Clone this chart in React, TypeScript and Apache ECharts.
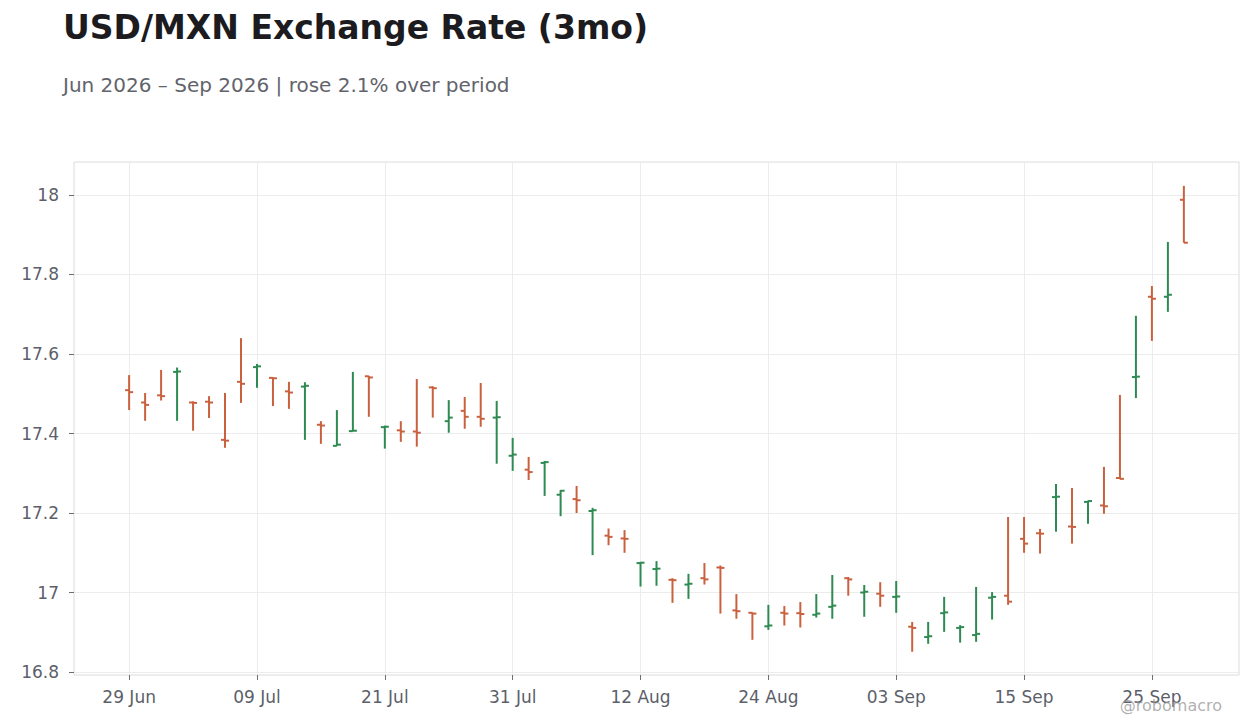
import React, { useEffect, useRef } from "react";
import * as echarts from "echarts";

// Business days, 29 Jun 2026 – 29 Sep 2026
const dates: string[] = [
  "2026-06-29", "2026-06-30",
  "2026-07-01", "2026-07-02", "2026-07-03", "2026-07-06", "2026-07-07", "2026-07-08", "2026-07-09", "2026-07-10",
  "2026-07-13", "2026-07-14", "2026-07-15", "2026-07-16", "2026-07-17", "2026-07-20", "2026-07-21", "2026-07-22",
  "2026-07-23", "2026-07-24", "2026-07-27", "2026-07-28", "2026-07-29", "2026-07-30", "2026-07-31",
  "2026-08-03", "2026-08-04", "2026-08-05", "2026-08-06", "2026-08-07", "2026-08-10", "2026-08-11", "2026-08-12",
  "2026-08-13", "2026-08-14", "2026-08-17", "2026-08-18", "2026-08-19", "2026-08-20", "2026-08-21", "2026-08-24",
  "2026-08-25", "2026-08-26", "2026-08-27", "2026-08-28", "2026-08-31",
  "2026-09-01", "2026-09-02", "2026-09-03", "2026-09-04", "2026-09-07", "2026-09-08", "2026-09-09", "2026-09-10",
  "2026-09-11", "2026-09-14", "2026-09-15", "2026-09-16", "2026-09-17", "2026-09-18", "2026-09-21", "2026-09-22",
  "2026-09-23", "2026-09-24", "2026-09-25", "2026-09-28", "2026-09-29",
];

const opens: number[] = [
  17.509, 17.478, 17.496, 17.555, 17.478, 17.480, 17.384, 17.530, 17.567, 17.540,
  17.506, 17.518, 17.422, 17.369, 17.406, 17.544, 17.416, 17.408, 17.405, 17.516,
  17.431, 17.457, 17.442, 17.440, 17.344, 17.309, 17.326, 17.246, 17.235, 17.205,
  17.143, 17.136, 17.074, 17.059, 17.032, 17.020, 17.036, 17.063, 16.955, 16.949,
  16.915, 16.949, 16.948, 16.944, 16.964, 17.036, 17.000, 16.997, 16.989, 16.914,
  16.888, 16.948, 16.911, 16.893, 16.987, 16.992, 17.135, 17.149, 17.240, 17.166,
  17.228, 17.219, 17.288, 17.542, 17.744, 17.744, 17.988,
];

const highs: number[] = [
  17.547, 17.502, 17.560, 17.566, 17.481, 17.494, 17.502, 17.640, 17.575, 17.541,
  17.530, 17.529, 17.431, 17.459, 17.555, 17.545, 17.420, 17.431, 17.537, 17.519,
  17.484, 17.492, 17.527, 17.482, 17.389, 17.341, 17.331, 17.258, 17.268, 17.213,
  17.161, 17.157, 17.077, 17.079, 17.036, 17.047, 17.074, 17.068, 16.996, 16.950,
  16.969, 16.966, 16.976, 16.996, 17.044, 17.039, 17.019, 17.026, 17.029, 16.926,
  16.926, 16.989, 16.918, 17.014, 17.001, 17.190, 17.190, 17.160, 17.273, 17.263,
  17.231, 17.316, 17.497, 17.696, 17.771, 17.882, 18.023,
];

const lows: number[] = [
  17.459, 17.432, 17.483, 17.432, 17.407, 17.439, 17.364, 17.477, 17.515, 17.469,
  17.462, 17.384, 17.374, 17.369, 17.406, 17.442, 17.362, 17.379, 17.367, 17.440,
  17.402, 17.412, 17.417, 17.324, 17.306, 17.283, 17.243, 17.192, 17.200, 17.094,
  17.119, 17.100, 17.015, 17.017, 16.974, 16.984, 17.020, 16.947, 16.934, 16.881,
  16.906, 16.917, 16.912, 16.937, 16.934, 16.992, 16.939, 16.964, 16.949, 16.851,
  16.871, 16.901, 16.874, 16.876, 16.932, 16.969, 17.100, 17.098, 17.153, 17.123,
  17.173, 17.198, 17.285, 17.489, 17.633, 17.706, 17.880,
];

const closes: number[] = [
  17.504, 17.472, 17.494, 17.556, 17.477, 17.478, 17.382, 17.525, 17.569, 17.539,
  17.503, 17.520, 17.420, 17.372, 17.407, 17.541, 17.417, 17.405, 17.402, 17.514,
  17.440, 17.442, 17.437, 17.441, 17.347, 17.303, 17.328, 17.256, 17.232, 17.207,
  17.140, 17.135, 17.075, 17.060, 17.031, 17.022, 17.033, 17.062, 16.953, 16.947,
  16.917, 16.947, 16.946, 16.947, 16.967, 17.033, 17.002, 16.992, 16.990, 16.911,
  16.890, 16.950, 16.913, 16.896, 16.989, 16.977, 17.123, 17.148, 17.241, 17.165,
  17.230, 17.217, 17.286, 17.543, 17.739, 17.749, 17.880,
];

const xTickIndices: number[] = [0, 8, 16, 24, 32, 40, 48, 56, 64];
const yTicks: number[] = [16.8, 17, 17.2, 17.4, 17.6, 17.8, 18];

const TITLE = "USD/MXN Exchange Rate (3mo)";
const SUBTITLE = "Jun 2026 \u2013 Sep 2026 | rose 2.1% over period";
const WATERMARK = "@robomacro";

const UP = "#2e8a52";
const DOWN = "#c9613f";
const FONT = "DejaVu Sans";
const MONTHS = ["Jan", "Feb", "Mar", "Apr", "May", "Jun", "Jul", "Aug", "Sep", "Oct", "Nov", "Dec"];

function fmtDate(s: string): string {
  const [, m, d] = s.split("-");
  return `${d} ${MONTHS[parseInt(m, 10) - 1]}`;
}

export default function App() {
  const ref = useRef<HTMLDivElement>(null);

  useEffect(() => {
    if (!ref.current) return;
    const chart = echarts.init(ref.current, undefined, { renderer: "svg" });
    const data = dates.map((_, i) => [i, opens[i], highs[i], lows[i], closes[i]]);

    chart.setOption({
      animation: false,
      backgroundColor: "#ffffff",
      title: [
        {
          text: TITLE,
          left: 63,
          top: 11,
          padding: 0,
          textStyle: { fontFamily: FONT, fontSize: 33, fontWeight: "bold", color: "#1b1b20" },
        },
        {
          text: SUBTITLE,
          left: 63,
          top: 75,
          padding: 0,
          textStyle: { fontFamily: FONT, fontSize: 20, fontWeight: "normal", color: "#62646c" },
        },
        {
          text: WATERMARK,
          right: 38,
          top: 697,
          padding: 0,
          textStyle: { fontFamily: FONT, fontSize: 16, fontWeight: "normal", color: "rgba(150,150,150,0.75)" },
        },
      ],
      grid: {
        left: 74,
        right: 21,
        top: 162,
        bottom: 53,
        show: true,
        borderColor: "#dcdcdc",
        borderWidth: 1,
        backgroundColor: "transparent",
      },
      xAxis: {
        type: "value",
        min: -3.45,
        max: 69.45,
        axisLine: { show: false, onZero: false },
        axisTick: {
          show: true,
          length: 5,
          customValues: xTickIndices,
          lineStyle: { color: "#6b6e78", width: 1 },
        },
        axisLabel: {
          customValues: xTickIndices,
          margin: 13,
          fontFamily: FONT,
          fontSize: 17,
          color: "#5c5f6a",
          formatter: (v: number) => {
            const i = Math.round(v);
            return dates[i] ? fmtDate(dates[i]) : "";
          },
        },
        splitLine: { show: true, lineStyle: { color: "#ececec", width: 1 } },
      },
      yAxis: {
        type: "value",
        min: 16.7925,
        max: 18.083,
        axisLine: { show: false, onZero: false },
        axisTick: {
          show: true,
          length: 5,
          customValues: yTicks,
          lineStyle: { color: "#6b6e78", width: 1 },
        },
        axisLabel: {
          customValues: yTicks,
          margin: 15,
          fontFamily: FONT,
          fontSize: 17,
          color: "#5c5f6a",
          formatter: (v: number) => String(+v.toFixed(1)),
        },
        splitLine: { show: true, lineStyle: { color: "#ececec", width: 1 } },
      },
      series: [
        {
          type: "custom",
          name: "USD/MXN",
          data,
          encode: { x: 0, y: [1, 2, 3, 4] },
          renderItem: (params: any, api: any) => {
            const x = api.value(0);
            const o = api.value(1);
            const h = api.value(2);
            const l = api.value(3);
            const c = api.value(4);
            const pH = api.coord([x, h]);
            const pL = api.coord([x, l]);
            const pO = api.coord([x, o]);
            const pC = api.coord([x, c]);
            const color = c >= o ? UP : DOWN;
            const style = { stroke: color, lineWidth: 2, fill: null };
            return {
              type: "group",
              children: [
                { type: "line", shape: { x1: pH[0], y1: pH[1], x2: pL[0], y2: pL[1] }, style },
                { type: "line", shape: { x1: pO[0] - 4, y1: pO[1], x2: pO[0], y2: pO[1] }, style },
                { type: "line", shape: { x1: pC[0], y1: pC[1], x2: pC[0] + 4, y2: pC[1] }, style },
              ],
            };
          },
        },
      ],
    });

    return () => {
      chart.dispose();
    };
  }, []);

  return (
    <div
      ref={ref}
      style={{ position: "fixed", left: 0, top: 0, width: 1260, height: 728 }}
    />
  );
}
